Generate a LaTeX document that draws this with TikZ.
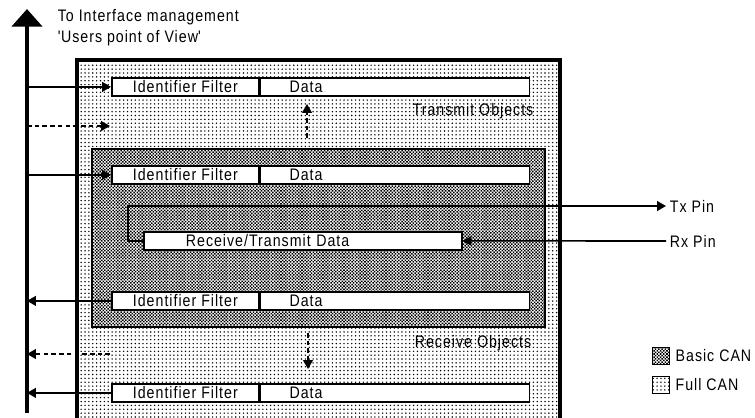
\documentclass[tikz,border=0pt]{standalone}
\usepackage{fontspec}
\setmainfont{Liberation Sans}
\newfontfamily\canfont[FakeStretch=0.85, LetterSpace=6]{Liberation Sans}
\usetikzlibrary{arrows.meta,patterns.meta}

\begin{document}
\begin{tikzpicture}[x=0.02cm, y=-0.02cm,
    lbl/.style={font=\canfont\fontsize{9.5}{11.5}\selectfont, inner sep=2pt},
    fullcan/.style={fill=white, postaction={pattern={Dots[distance=2.2pt, radius=0.45pt]}}},
    basiccan/.style={fill=white, postaction={pattern={Dots[distance=1.3pt, radius=0.62pt, angle=45]}}},
    idbox/.style={lbl, draw, fill=white, line width=1pt, minimum width=2.94cm,
                  minimum height=0.36cm, inner sep=0pt, anchor=north west},
    databox/.style={lbl, draw, fill=white, line width=1pt, minimum height=0.36cm,
                  text width=4.22cm, inner xsep=0.58cm, inner ysep=0pt, align=left, anchor=west},
    sig/.style={line width=0.9pt, -{Triangle[length=5pt,width=5.5pt]}},
    dsig/.style={sig, dash pattern=on 2.6pt off 1.8pt}]

  \useasboundingbox (0,0) rectangle (755,417);

  % full CAN and basic CAN areas
  \draw[fullcan, line width=1.8pt] (77,60) rectangle (560,425);
  \draw[basiccan, line width=1.1pt] (92,149) rectangle (545,327);

  % message objects
  \node[idbox] (id1) at (111,77) {Identifier Filter};
  \node[databox] (d1) at (id1.east) {Data};
  \node[idbox] (id2) at (111,165) {Identifier Filter};
  \node[databox] (d2) at (id2.east) {Data};
  \node[idbox] (id3) at (111,291) {Identifier Filter};
  \node[databox] (d3) at (id3.east) {Data};
  \node[idbox] (id4) at (111,383) {Identifier Filter};
  \node[databox] (d4) at (id4.east) {Data};

  \node[lbl, draw, fill=white, line width=1pt, minimum height=0.36cm, text width=4.68cm,
        inner xsep=0.84cm, inner ysep=0pt, align=left, anchor=north west] (rt) at (143,231) {Receive/Transmit Data};

  \node[lbl] (tobj) at (473,111) {Transmit Objects};
  \node[lbl] (robj) at (473,343) {Receive Objects};

  % bus to the interface management
  \coordinate (busbot) at (27,413);
  \coordinate (bustop) at (27,9);
  \draw[line width=2.8pt, -{Triangle[length=10pt,width=17pt]}] (busbot) -- (bustop);
  \node[lbl, align=left, anchor=north west] (iface) at (54,6)
    {To Interface management\\\textquotesingle Users point of View\textquotesingle};

  \draw[sig] (id1.west -| busbot) -- (id1.west);
  \draw[sig] (id2.west -| busbot) -- (id2.west);
  \draw[sig] (id3.west) -- (id3.west -| busbot);
  \draw[sig] (id4.west) -- (id4.west -| busbot);

  \coordinate (tq) at (110,126);
  \draw[dsig] (tq -| busbot) -- (tq);
  \coordinate (rq) at (110,354);
  \draw[dsig] (rq) -- (rq -| busbot);

  \coordinate (tupa) at (307,138);
  \coordinate (tupb) at (307,104);
  \draw[dsig] (tupa) -- (tupb);
  \coordinate (rdna) at (308,333);
  \coordinate (rdnb) at (308,369);
  \draw[dsig] (rdna) -- (rdnb);

  % pins
  \node[lbl, anchor=west] (txpin) at (666,206) {Tx Pin};
  \node[lbl, anchor=west] (rxpin) at (666,241) {Rx Pin};
  \draw[sig] (rt.west) -- ++(-15,0) |- (txpin.west);
  \draw[sig] (rxpin.west) -- (rt.east);

  % legend
  \node[basiccan, draw, line width=0.6pt, minimum size=0.34cm, inner sep=0pt] (lgb) at (661,356) {};
  \node[lbl, anchor=west, inner xsep=3pt] (lgbt) at (lgb.east) {Basic CAN};
  \node[fullcan, draw, line width=0.6pt, minimum size=0.34cm, inner sep=0pt] (lgf) at (661,385) {};
  \node[lbl, anchor=west, inner xsep=3pt] (lgft) at (lgf.east) {Full CAN};
\end{tikzpicture}
\end{document}
